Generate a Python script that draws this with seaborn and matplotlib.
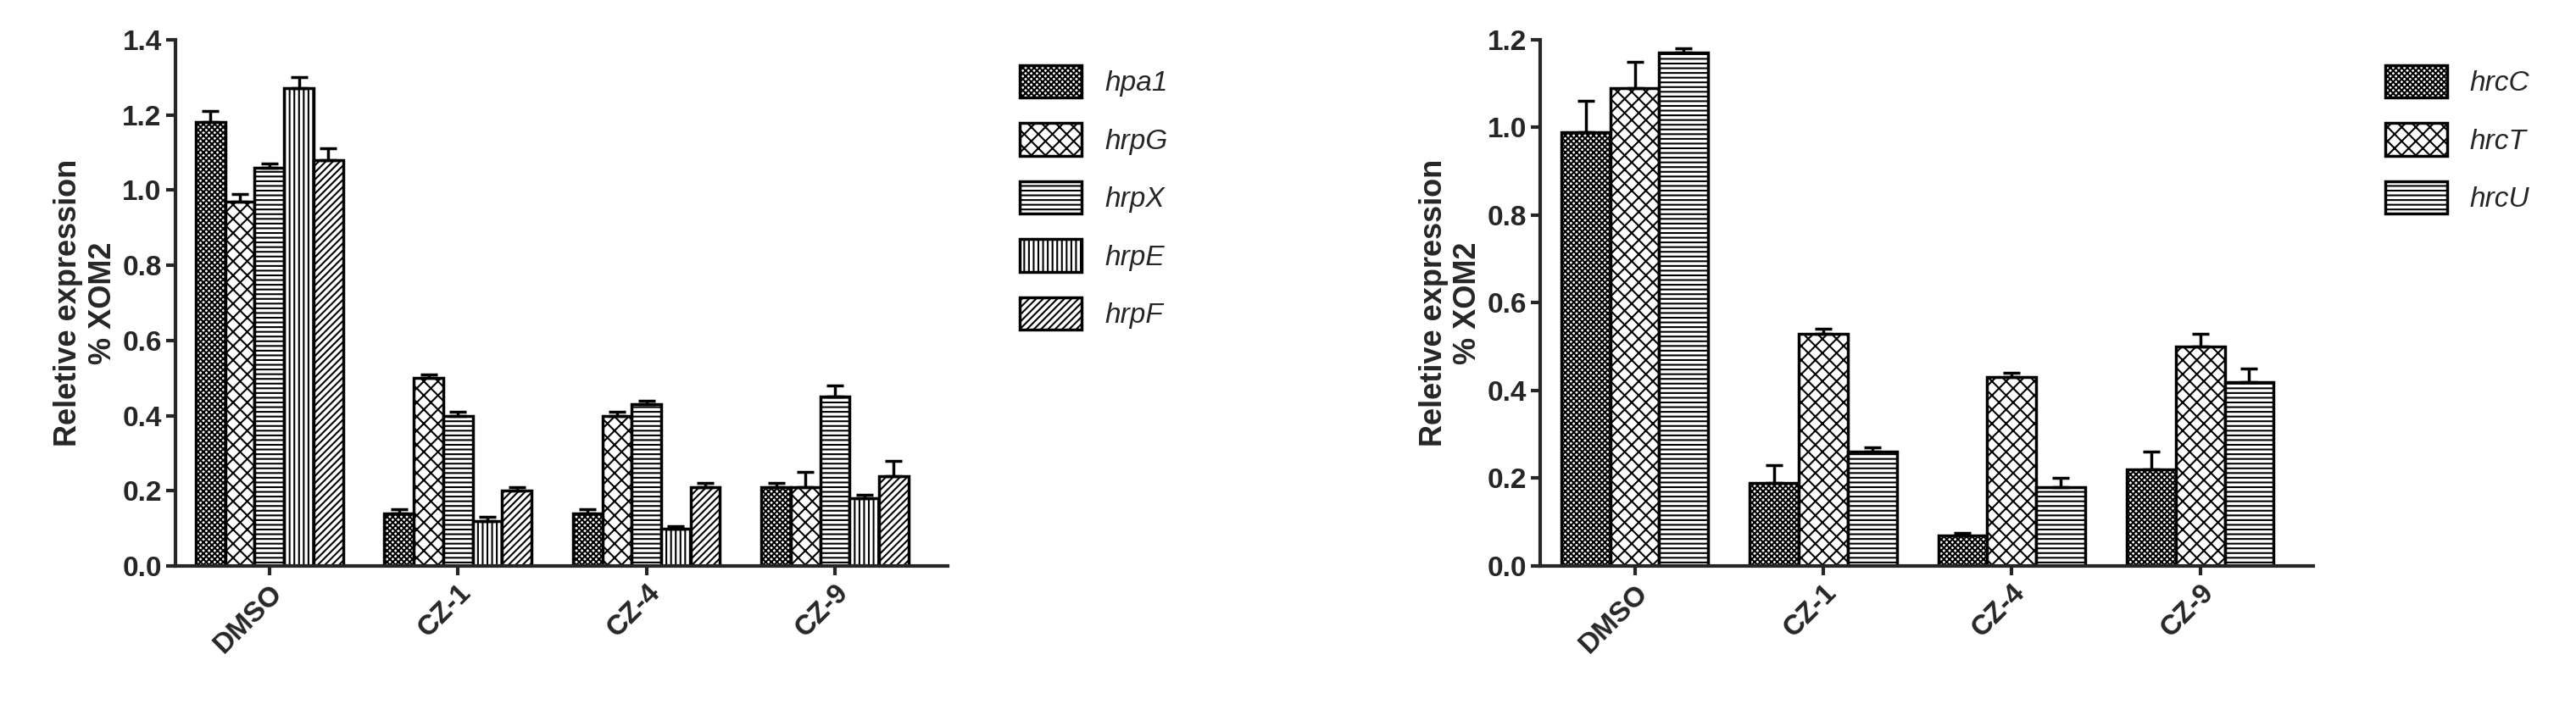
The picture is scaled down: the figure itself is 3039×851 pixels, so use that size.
import matplotlib
matplotlib.use("Agg")
import matplotlib.pyplot as plt
import seaborn as sns
import pandas as pd
import numpy as np

groups = ["DMSO", "CZ-1", "CZ-4", "CZ-9"]
genes_left = ["hpa1", "hrpG", "hrpX", "hrpE", "hrpF"]
vals_left = {
    "hpa1": [1.18, 0.14, 0.14, 0.21],
    "hrpG": [0.97, 0.50, 0.40, 0.21],
    "hrpX": [1.06, 0.40, 0.43, 0.45],
    "hrpE": [1.27, 0.12, 0.10, 0.18],
    "hrpF": [1.08, 0.20, 0.21, 0.24],
}
err_left = {
    "hpa1": [0.03, 0.01, 0.01, 0.01],
    "hrpG": [0.02, 0.01, 0.01, 0.04],
    "hrpX": [0.01, 0.01, 0.01, 0.03],
    "hrpE": [0.03, 0.01, 0.005, 0.01],
    "hrpF": [0.03, 0.01, 0.01, 0.04],
}
genes_right = ["hrcC", "hrcT", "hrcU"]
vals_right = {
    "hrcC": [0.99, 0.19, 0.07, 0.22],
    "hrcT": [1.09, 0.53, 0.43, 0.50],
    "hrcU": [1.17, 0.26, 0.18, 0.42],
}
err_right = {
    "hrcC": [0.07, 0.04, 0.005, 0.04],
    "hrcT": [0.06, 0.01, 0.01, 0.03],
    "hrcU": [0.01, 0.01, 0.02, 0.03],
}
hatches_left = ["xxxxx", "XX", "---", "|||", "////"]
hatches_right = ["xxxxx", "XX", "---"]

sns.set_style("ticks")
plt.rcParams["font.family"] = ["Liberation Sans", "DejaVu Sans"]
plt.rcParams["hatch.linewidth"] = 1.5
fig = plt.figure(figsize=(30.39, 8.51), dpi=100)
ax1 = fig.add_axes([0.068, 0.215, 0.30, 0.73])
ax2 = fig.add_axes([0.598, 0.215, 0.30, 0.73])

def panel(ax, genes, vals, errs, hatches, ymax):
    rows = [(g, gene, vals[gene][i], errs[gene][i]) for gene in genes for i, g in enumerate(groups)]
    df = pd.DataFrame(rows, columns=["group", "gene", "value", "err"])
    sns.barplot(data=df, x="group", y="value", hue="gene", order=groups, hue_order=genes,
                ax=ax, color="white", edgecolor="black", linewidth=2.5, width=0.78,
                errorbar=None, legend=False)
    handles = []
    for k, (cont, gene) in enumerate(zip(ax.containers, genes)):
        for i, p in enumerate(cont.patches):
            p.set_hatch(hatches[k]); p.set_facecolor("white")
            x = p.get_x() + p.get_width() / 2
            ax.errorbar(x, p.get_height(), yerr=[[0], [errs[gene][i]]], color="black",
                        capsize=7, capthick=2.5, elinewidth=2.5)
        handles.append(plt.Rectangle((0, 0), 1, 1, facecolor="white", edgecolor="black",
                                     linewidth=2.5, hatch=hatches[k]))
    ax.legend(handles, genes, loc="upper left", bbox_to_anchor=(1.06, 1.0), frameon=False,
              prop={"family": "Liberation Sans", "style": "italic", "size": 24},
              handlelength=2.2, handleheight=1.4, labelspacing=0.9)
    ticks = np.arange(0, ymax + 0.001, 0.2)
    ax.set_ylim(0, ymax)
    ax.set_yticks(ticks)
    ax.set_yticklabels([f"{v:.1f}" for v in ticks], fontsize=24, fontweight="bold")
    ax.set_xticks(range(len(groups)))
    ax.set_xticklabels(groups, rotation=45, ha="right", rotation_mode="anchor", fontsize=24, fontweight="bold")
    ax.set_xlabel("")
    ax.set_ylabel("Reletive expression\n% XOM2", fontsize=26, fontweight="bold")
    ax.set_xlim(-0.5, 3.6)
    sns.despine(ax=ax)
    for s in ["left", "bottom"]:
        ax.spines[s].set_linewidth(3)
    ax.tick_params(width=3, length=8)

panel(ax1, genes_left, vals_left, err_left, hatches_left, 1.4)
panel(ax2, genes_right, vals_right, err_right, hatches_right, 1.2)
fig.savefig("out.png", dpi=100)
